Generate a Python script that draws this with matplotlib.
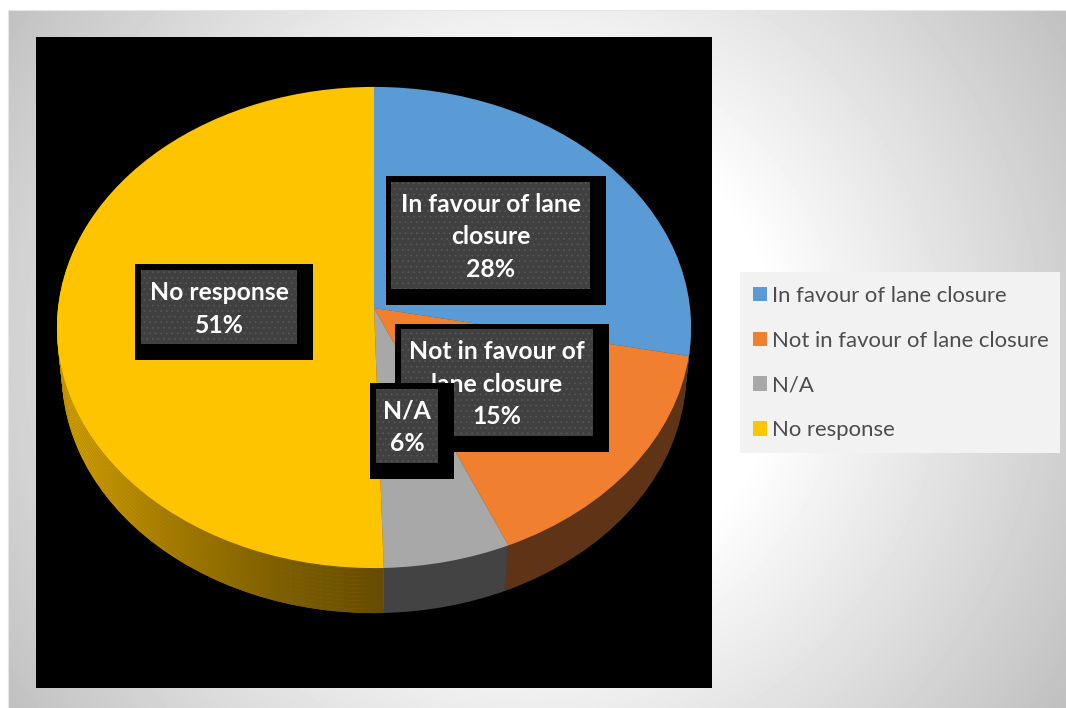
import matplotlib
matplotlib.use('Agg')
import matplotlib.pyplot as plt
import matplotlib.transforms as mtrans
import numpy as np

from matplotlib.colors import LinearSegmentedColormap
from matplotlib.patches import Rectangle

plt.rcParams['font.family'] = ['Lato', 'DejaVu Sans']
plt.rcParams['hatch.linewidth'] = 0.5

categories = ['In favour of lane closure', 'Not in favour of lane closure',
    'N/A', 'No response']
values = [28.2, 15.4, 6.0, 50.5]
pct_labels = ['28%', '15%', '6%', '51%']
wrapped_names = ['In favour of lane\nclosure', 'Not in favour of\nlane closure',
    'N/A', 'No response']

top_colors = ['#5b9bd5', '#f07f30', '#a8a8a8', '#ffc400']
side_colors = ['#2d4d6a', '#5f3316', '#434343', '#8f6c00']

W, H = 1066, 708
CX, TIP_Y = 374, 308
RX, RY = 316, 239
TILT = 0.081
DEPTH = 45


class Perspective(mtrans.Transform):
    # tilts the flat unit pie, so the near half comes out larger than the far one
    input_dims = 2
    output_dims = 2

    def transform_non_affine(self, values):
        xy = np.asarray(values)
        w = 1 + TILT*xy[:, 1]
        return np.column_stack([xy[:, 0]/w, xy[:, 1]/w])


def pie_layer(ax, colors, dz, shrink, zorder):
    wedges, _ = ax.pie(values, colors=colors, startangle=90, counterclock=False,
        wedgeprops={'linewidth': 0})
    place = mtrans.Affine2D().scale(RX*shrink, -RY).translate(CX, TIP_Y + dz)
    for w in wedges:
        w.set_transform(Perspective() + place + ax.transData)
        w.set_zorder(zorder)
    return wedges


fig = plt.figure(figsize=(W/100, H/100), dpi=100)
ax = fig.add_axes([0, 0, 1, 1])

# slide background
xx, yy = np.meshgrid(np.arange(8, W), np.arange(10, H))
dist = np.hypot(xx - 533, yy - 354)
shade = np.clip(1 - (dist - 240)*0.000625, 0, 1)
ax.imshow(shade, extent=(8, W, H, 10), cmap='gray', vmin=0, vmax=1,
    aspect='auto', zorder=0)
ax.add_patch(Rectangle((8, 9.5), W, H, fc='none', ec='#e6e6e6', lw=0.8,
    zorder=0.2))
ax.add_patch(Rectangle((36, 37), 676, 651, fc='black', lw=0, zorder=0.5))

# pie wall, stacked from the floor up
wall = LinearSegmentedColormap.from_list('wall',
    ['#d6a300', '#a67d00', '#7f6000', '#664c00'])
ramp = np.linspace(0, 1, 330).reshape(1, -1)
levels = np.linspace(DEPTH, 1, 12)
for i, dz in enumerate(levels):
    wedges = pie_layer(ax, side_colors, dz, 0.985 + 0.015*i/11, 1 + i*0.01)
    im = ax.imshow(ramp, extent=(57, 384, H, 0), cmap=wall, aspect='auto',
        zorder=1.005 + i*0.01)
    im.set_clip_path(wedges[3])

top = pie_layer(ax, top_colors, 0, 1, 2)

# data labels: outer black box, inner dotted box, text centre
boxes = [((386, 176, 220, 129), (391, 182, 199, 107), (491, 237)),
    ((395, 324, 214, 128), (401, 329, 192, 107), (497, 384)),
    ((370, 383, 84, 96), (376, 389, 62, 74), (407, 427)),
    ((135, 264, 178, 96), (141, 270, 156, 74), (219, 309))]
order = [0, 3, 1, 2]
for n, i in enumerate(order):
    outer, inner, centre = boxes[i]
    z = 3 + n
    ax.add_patch(Rectangle(outer[:2], outer[2], outer[3], fc='black', lw=0,
        zorder=z))
    ax.add_patch(Rectangle(inner[:2], inner[2], inner[3], fc='#404040',
        ec='#585858', hatch='...', lw=0, zorder=z))
    ax.text(centre[0], centre[1], f'{wrapped_names[i]}\n{pct_labels[i]}',
        color='white', fontsize=17.8, fontweight='bold', ha='center', va='center',
        linespacing=1.5, zorder=z)

# legend
ax.add_patch(Rectangle((740, 272), 320, 181, fc='#f2f2f2', lw=0, zorder=8))
leg = ax.legend(top, categories, loc='upper left', bbox_to_anchor=(753, 286),
    bbox_transform=ax.transData, frameon=False, borderaxespad=0, borderpad=0,
    fontsize=15.9, labelcolor='#4d4d4d', handlelength=0.63, handleheight=0.63,
    handletextpad=0.23, labelspacing=1.12)
leg.set_zorder(9)

ax.set_xlim(0, W)
ax.set_ylim(H, 0)
ax.set_aspect('auto')
ax.axis('off')

fig.savefig('out.png', dpi=100)
